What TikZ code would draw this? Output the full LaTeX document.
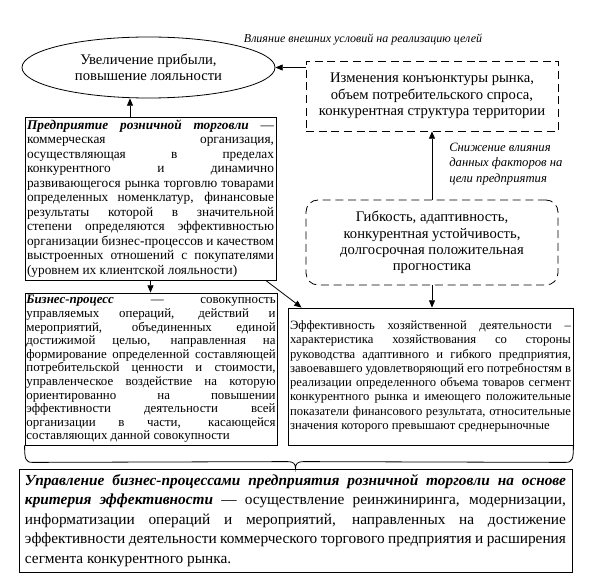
\documentclass[tikz,border=0pt]{standalone}
\usepackage{fontspec}
\setmainfont{Liberation Serif}
\usetikzlibrary{shapes.geometric,arrows.meta,calc}
\begin{document}
\begin{tikzpicture}[x=0.75pt,y=-0.75pt,
  every node/.style={font=\fontsize{10}{11}\selectfont},
  box/.style={draw, line width=0.6pt, inner xsep=1.5pt, inner ysep=0pt, align=justify},
  dbox/.style={draw, line width=0.6pt, dash pattern=on 6pt off 3.5pt, align=center, inner sep=0pt,
    font=\fontsize{11}{12.2}\selectfont},
  arr/.style={-{Triangle[length=5.5pt,width=4.5pt]}, line width=0.6pt},
  lbl/.style={font=\fontsize{9.5}{11.6}\selectfont\itshape, inner sep=0pt},
  ttl/.style={font=\bfseries\itshape}
]
\useasboundingbox (0,0) rectangle (590,588);

% goal ellipse
\node[draw, ellipse, line width=0.6pt, minimum width=189.75pt, minimum height=45.75pt, inner sep=0pt,
  align=center, font=\fontsize{11}{12.2}\selectfont] (goal) at (148.5,67.5)
  {Увеличение прибыли,\\повышение лояльности};

% external conditions
\node[dbox, minimum width=189pt, minimum height=52.5pt] (ext) at (432,96)
  {Изменения конъюнктуры рынка,\\объем потребительского спроса,\\конкурентная структура территории};

\node[lbl, font=\fontsize{9}{11}\selectfont\itshape] (lbl1) at (363,40)
  {Влияние внешних условий на реализацию целей};

% flexibility
\node[dbox, rounded corners=9pt, minimum width=189pt, minimum height=63.75pt] (flex) at (432,242.5)
  {Гибкость, адаптивность,\\конкурентная устойчивость,\\долгосрочная положительная\\прогностика};

\node[lbl, align=left, anchor=west] (lbl2) at (449,164)
  {Снижение влияния\\данных факторов на\\цели предприятия};

% enterprise
\node[box, text width=185.25pt, minimum height=122.25pt, font=\fontsize{10}{10.9}\selectfont] (ent) at (150.5,198.5)
  {\textbf{\textit{Предприятие розничной торговли}} —\linebreak
  коммерческая организация,\linebreak
  осуществляющая в пределах\linebreak
  конкурентного и динамично\linebreak
  развивающегося рынка торговлю товарами\linebreak
  определенных номенклатур, финансовые\linebreak
  результаты которой в значительной\linebreak
  степени определяются эффективностью\linebreak
  организации бизнес-процессов и качеством\linebreak
  выстроенных отношений с покупателями\linebreak
  (уровнем их клиентской лояльности)};

% business process
\node[box, inner xsep=1pt, text width=187pt, minimum height=114pt, font=\fontsize{9.7}{10.2}\selectfont] (bp) at (151,369)
  {\textbf{\textit{Бизнес-процесс}} — совокупность\linebreak
  управляемых операций, действий и\linebreak
  мероприятий, объединенных единой\linebreak
  достижимой целью, направленная на\linebreak
  формирование определенной составляющей\linebreak
  потребительской ценности и стоимости,\linebreak
  управленческое воздействие на которую\linebreak
  ориентированно на повышении\linebreak
  эффективности деятельности всей\linebreak
  организации в части, касающейся\linebreak
  составляющих данной совокупности};

% efficiency
\node[box, text width=210.75pt, minimum height=102.75pt, font=\fontsize{9.5}{10.7}\selectfont] (eff) at (430.5,376.5)
  {Эффективность хозяйственной деятельности –\linebreak
  характеристика хозяйствования со стороны\linebreak
  руководства адаптивного и гибкого предприятия,\linebreak
  завоевавшего удовлетворяющий его потребностям в\linebreak
  реализации определенного объема товаров сегмент\linebreak
  конкурентного рынка и имеющего положительные\linebreak
  показатели финансового результата, относительные\linebreak
  значения которого превышают среднерыночные};

% management
\node[box, inner xsep=4.5pt, text width=405.75pt, minimum height=77.25pt, font=\fontsize{11.5}{14.6}\selectfont] (mgmt) at (295.5,520.5)
  {\textbf{\textit{Управление бизнес-процессами предприятия розничной торговли на основе}}\linebreak
  \textbf{\textit{критерия эффективности}} — осуществление реинжиниринга, модернизации,\linebreak
  информатизации операций и мероприятий, направленных на достижение\linebreak
  эффективности деятельности коммерческого торгового предприятия и расширения\linebreak
  сегмента конкурентного рынка.};

% connectors
\coordinate (c130) at (130,0);
\draw[arr] (ext.west |- goal.east) -- (goal.east);
\draw[arr] (flex.north) -- (ext.south);
\draw[arr] (flex.south) -- (flex.south |- eff.north);
\draw[arr] (ent.north -| c130) -- (goal.south -| c130);
\draw[arr] (ent.south) -- (ent.south |- bp.north);
\draw[arr] ([xshift=-8pt]ent.south east) -- ([xshift=10.5pt]eff.north west);

% brace
\coordinate (tip) at (mgmt.north);
\draw[line width=0.6pt] (bp.south west) .. controls ($(bp.south west)+(0,14)$) and ($(bp.south west)+(1,17)$) .. ($(bp.south west)+(8,17)$)
  -- ($(tip)+(-8,-7)$) .. controls ($(tip)+(-2,-7)$) and ($(tip)+(0,-5)$) .. (tip)
  .. controls ($(tip)+(0,-5)$) and ($(tip)+(2,-7)$) .. ($(tip)+(8,-7)$)
  -- ($(eff.south east)+(-8,17)$) .. controls ($(eff.south east)+(-1,17)$) and ($(eff.south east)+(0,14)$) .. (eff.south east);
\end{tikzpicture}
\end{document}
